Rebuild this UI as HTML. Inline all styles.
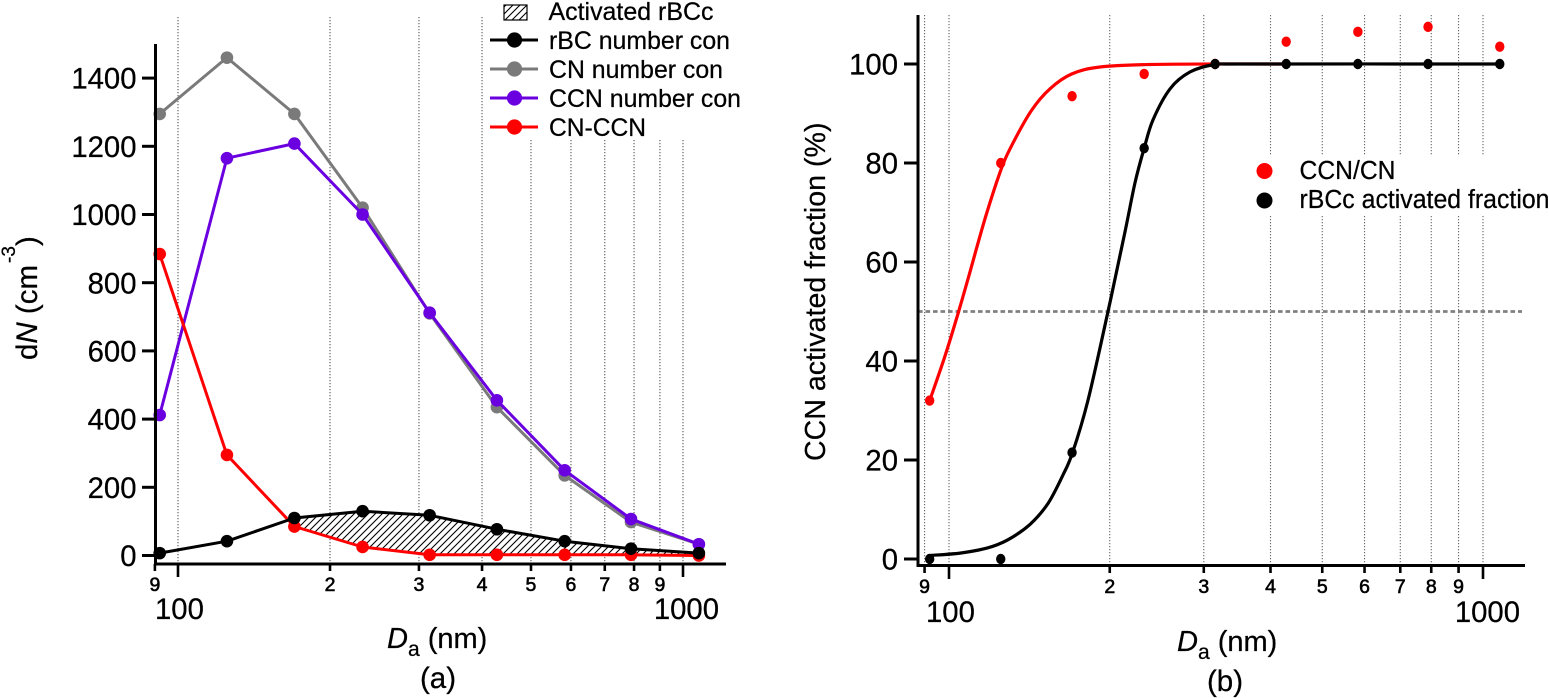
<!DOCTYPE html>
<html lang="en">
<head>
<meta charset="utf-8">
<title>dN and CCN activated fraction vs. Da</title>
<style>
html,body{margin:0;padding:0;background:#fff;}
svg{display:block;}
text{font-family:"Liberation Sans",Arial,sans-serif;fill:#000;stroke:#000;stroke-width:.25px;}
</style>
</head>
<body>
<svg id="figure" xmlns="http://www.w3.org/2000/svg" width="1549" height="698" viewBox="0 0 1549 698">
  <defs>
    <pattern id="hatch" patternUnits="userSpaceOnUse" width="7" height="7">
      <rect width="7" height="7" fill="#fff"/>
      <path d="M-1 8 L8 -1 M-1 1 L1 -1 M6 8 L8 6" stroke="#000" stroke-width="1.1"/>
    </pattern>
  </defs>
  <g id="panel-a"></g>
  <g id="panel-b"></g>
</svg>
<script>
const diameters = [92, 125, 170, 232, 315, 428, 583, 789, 1075];
const rbcNumber = [7, 42, 110, 130, 118, 77, 42, 20, 7];
const cnNumber = [1295, 1460, 1295, 1020, 710, 435, 235, 98, 33];
const ccnNumber = [412, 1165, 1208, 1000, 712, 455, 250, 107, 33];
const cnMinusCcn = [884, 295, 85, 25, 2, 2, 2, 2, 0];
const ccnCnFraction = [32, 80, 93.5, 98, 100, 104.5, 106.5, 107.5, 103.5];
const rbcFraction = [0, 0, 21.5, 83, 100, 100, 100, 100, 100];
const redFitD = [92, 98.3, 103.9, 108.5, 117, 125, 131, 142.5, 154.6, 169.9, 191.8, 238, 315, 420];
const redFitV = [32, 41, 49.5, 56.5, 69, 78.5, 83.5, 90.5, 95, 98, 99.4, 99.9, 100, 100];
const blackFitD = [92, 104.9, 117.8, 129, 141.8, 153.2, 163.5, 170.5, 182, 198.5, 213.5, 223, 232, 241, 259.4, 282.8, 315, 351, 1075];
const blackFitV = [0.7, 1.2, 2.2, 3.9, 7, 11.2, 17, 21.6, 32, 50, 66, 76, 83, 88.7, 95, 98.4, 99.9, 100, 100];
const yTicksA = [0, 200, 400, 600, 800, 1000, 1200, 1400];
const yTicksB = [0, 20, 40, 60, 80, 100];
const xTicks = [90, 100, 200, 300, 400, 500, 600, 700, 800, 900, 1000];
const xMinorLabels = ["9", "", "2", "3", "4", "5", "6", "7", "8", "9", ""];
const xMajorLabels = [100, 1000];
const halfActivation = 50;

const NS = 'http://www.w3.org/2000/svg';
const xA = d => 178 + 505 * Math.log10(d / 100);
const yA = v => 555.5 - 0.341 * v;
const xB = d => 949 + 534 * Math.log10(d / 100);
const yB = v => 559 - 4.95 * v;

function make(parent, tag, attrs, txt) {
  const el = document.createElementNS(NS, tag);
  for (const k in attrs) el.setAttribute(k, attrs[k]);
  if (txt !== undefined) el.textContent = txt;
  parent.appendChild(el);
  return el;
}
function pts(xs, ys, fx, fy) {
  return xs.map((x, i) => fx(x).toFixed(1) + ',' + fy(ys[i]).toFixed(1)).join(' ');
}
function smoothPath(xs, ys, fx, fy) {
  const p = xs.map((x, i) => [fx(x), fy(ys[i])]);
  let d = 'M' + p[0][0].toFixed(1) + ' ' + p[0][1].toFixed(1);
  for (let i = 0; i < p.length - 1; i++) {
    const a = p[Math.max(i - 1, 0)], b = p[i], c = p[i + 1], e = p[Math.min(i + 2, p.length - 1)];
    d += ' C' + (b[0] + (c[0] - a[0]) / 6).toFixed(1) + ' ' + (b[1] + (c[1] - a[1]) / 6).toFixed(1) +
         ' ' + (c[0] - (e[0] - b[0]) / 6).toFixed(1) + ' ' + (c[1] - (e[1] - b[1]) / 6).toFixed(1) +
         ' ' + c[0].toFixed(1) + ' ' + c[1].toFixed(1);
  }
  return d;
}

const A = document.getElementById('panel-a');
const B = document.getElementById('panel-b');

/* ---------- Panel A ---------- */
xTicks.forEach((d, i) => {
  if (d === 90) return;
  const top = d >= 500 ? 140 : 17;
  const g = make(A, 'line', {x1: xA(d), x2: xA(d), y1: top, y2: 563, stroke: '#666', 'stroke-width': 1.2, 'stroke-dasharray': '1.3 1.7'});
  
  
});

const hatchUpper = diameters.slice(2).map((d, i) => xA(d).toFixed(1) + ',' + yA(rbcNumber[i + 2]).toFixed(1));
const hatchLower = diameters.slice(2).map((d, i) => xA(d).toFixed(1) + ',' + yA(cnMinusCcn[i + 2]).toFixed(1)).reverse();
const area = make(A, 'polygon', {points: hatchUpper.concat(hatchLower).join(' '), fill: 'url(#hatch)'});



function series(values, color, name) {
  const g = make(A, 'g', {});
  
  
  make(g, 'polyline', {points: pts(diameters, values, xA, yA), fill: 'none', stroke: color, 'stroke-width': 3, 'stroke-linejoin': 'round'});
  diameters.forEach((d, i) => {
    make(g, 'circle', {cx: xA(d), cy: yA(values[i]), r: 6.3, fill: color});
  });
}
series(cnNumber, '#7a7a7a', 'series-cn-number');
series(ccnNumber, '#6a00e0', 'series-ccn-number');
series(cnMinusCcn, '#ff0000', 'series-cn-minus-ccn');
series(rbcNumber, '#000000', 'series-rbc-number');

const axisYA = make(A, 'line', {x1: 155.5, x2: 155.5, y1: 44, y2: 565, stroke: '#000', 'stroke-width': 3});


const axisXA = make(A, 'line', {x1: 154, x2: 726, y1: 564, y2: 564, stroke: '#000', 'stroke-width': 3});



yTicksA.forEach(v => {
  make(A, 'line', {x1: 142, x2: 155, y1: yA(v), y2: yA(v), stroke: '#000', 'stroke-width': 3});
  const t = make(A, 'text', {x: 136.5, y: yA(v) + 10.6, 'text-anchor': 'end', 'font-size': 29.3}, v);
  
  
});
xTicks.forEach((d, i) => {
  const major = d === 100 || d === 1000;
  make(A, 'line', {x1: xA(d), x2: xA(d), y1: 564, y2: major ? 577 : 571, stroke: '#000', 'stroke-width': 2.6});
  if (xMinorLabels[i]) {
    const t = make(A, 'text', {x: xA(d), y: 591, 'text-anchor': 'middle', 'font-size': 19.5, style: 'stroke-width:.6px'}, xMinorLabels[i]);
    
    
  }
});
const m100a = make(A, 'text', {x: 155, y: 619, 'font-size': 29.3}, xMajorLabels[0]);


const m1000a = make(A, 'text', {x: 719, y: 619, 'text-anchor': 'end', 'font-size': 29.3}, xMajorLabels[1]);



function xTitle(parent, x, y, name) {
  const t = make(parent, 'text', {x: x, y: y, 'font-size': 29});
  
  
  make(t, 'tspan', {'font-style': 'italic'}, 'D');
  make(t, 'tspan', {dy: 8, 'font-size': 21}, 'a');
  make(t, 'tspan', {dy: -8}, ' (nm)');
}
xTitle(A, 387, 648, 'x-axis-title-a');
const capA = make(A, 'text', {x: 438, y: 688, 'text-anchor': 'middle', 'font-size': 29.5}, '(a)');



const yTitleA = make(A, 'text', {transform: 'translate(37,360) rotate(-90)', 'font-size': 29.5});


make(yTitleA, 'tspan', {}, 'd');
make(yTitleA, 'tspan', {'font-style': 'italic'}, 'N');
make(yTitleA, 'tspan', {}, ' (cm');
const expA = make(A, 'text', {transform: 'translate(15,263) rotate(-90)', 'font-size': 19}, '-3');


const closeA = make(A, 'text', {transform: 'translate(37,246) rotate(-90)', 'font-size': 29.5}, ')');



const legendA = make(A, 'g', {});


const hatchSw = make(legendA, 'rect', {x: 504, y: 5, width: 23, height: 15, fill: 'url(#hatch)', stroke: '#000', 'stroke-width': 1.2});


const hatchLabel = make(legendA, 'text', {x: 548.5, y: 20, 'font-size': 25, textLength: 165, lengthAdjust: 'spacingAndGlyphs'}, 'Activated rBCc');


[['rBC number con', '#000000', 40, 181], ['CN number con', '#7a7a7a', 69, 174], ['CCN number con', '#6a00e0', 98, 192], ['CN-CCN', '#ff0000', 127, 97]].forEach(row => {
  const g = make(legendA, 'g', {});
  
  
  make(g, 'line', {x1: 490, x2: 538, y1: row[2], y2: row[2], stroke: row[1], 'stroke-width': 3});
  make(g, 'circle', {cx: 514.5, cy: row[2], r: 7.6, fill: row[1]});
  make(g, 'text', {x: 549, y: row[2] + 9, 'font-size': 25, textLength: row[3], lengthAdjust: 'spacingAndGlyphs'}, row[0]);
});

/* ---------- Panel B ---------- */
xTicks.forEach(d => {
  const g = make(B, 'line', {x1: xB(d), x2: xB(d), y1: 15, y2: 565, stroke: '#666', 'stroke-width': 1.1, 'stroke-dasharray': '1.3 1.7'});
  
  
});
const legendMask = make(B, 'rect', {x: 1240, y: 156, width: 309, height: 59, fill: '#fff'});



const halfLine = make(B, 'line', {x1: 918, x2: 1522, y1: yB(halfActivation), y2: yB(halfActivation), stroke: '#808080', 'stroke-width': 2.7, 'stroke-dasharray': '4.6 2.9'});



const fitRed = make(B, 'path', {d: smoothPath(redFitD, redFitV, xB, yB), fill: 'none', stroke: '#ff0000', 'stroke-width': 3.2, 'stroke-linejoin': 'round'});


const fitBlack = make(B, 'path', {d: smoothPath(blackFitD, blackFitV, xB, yB), fill: 'none', stroke: '#000', 'stroke-width': 3.2, 'stroke-linejoin': 'round'});



diameters.forEach((d, i) => {
  const p = make(B, 'ellipse', {cx: xB(d), cy: yB(ccnCnFraction[i]), rx: 4.7, ry: 5.2, fill: '#ff0000'});
  
  
});
diameters.forEach((d, i) => {
  const p = make(B, 'ellipse', {cx: xB(d), cy: yB(rbcFraction[i]), rx: 4.7, ry: 5.2, fill: '#000'});
  
  
});

const axisYB = make(B, 'line', {x1: 918, x2: 918, y1: 15, y2: 567, stroke: '#000', 'stroke-width': 3});


const axisXB = make(B, 'line', {x1: 917, x2: 1525, y1: 565.5, y2: 565.5, stroke: '#000', 'stroke-width': 3});



yTicksB.forEach(v => {
  make(B, 'line', {x1: 904, x2: 917, y1: yB(v), y2: yB(v), stroke: '#000', 'stroke-width': 3});
  const t = make(B, 'text', {x: 898, y: yB(v) + 10.6, 'text-anchor': 'end', 'font-size': 29.3}, v);
  
  
});
xTicks.forEach((d, i) => {
  const major = d === 100 || d === 1000;
  make(B, 'line', {x1: xB(d), x2: xB(d), y1: 565, y2: major ? 579 : 573, stroke: '#000', 'stroke-width': 2.6});
  if (xMinorLabels[i]) {
    const t = make(B, 'text', {x: xB(d), y: 593, 'text-anchor': 'middle', 'font-size': 19.5, style: 'stroke-width:.6px'}, xMinorLabels[i]);
    
    
  }
});
const m100b = make(B, 'text', {x: 926, y: 622, 'font-size': 29.3}, xMajorLabels[0]);


const m1000b = make(B, 'text', {x: 1520, y: 622, 'text-anchor': 'end', 'font-size': 29.3}, xMajorLabels[1]);



xTitle(B, 1177, 651, 'x-axis-title-b');
const capB = make(B, 'text', {x: 1225, y: 691, 'text-anchor': 'middle', 'font-size': 29.5}, '(b)');



const yTitleB = make(B, 'text', {transform: 'translate(825,461) rotate(-90)', 'font-size': 28.6}, 'CCN activated fraction (%)');



const legendB = make(B, 'g', {});


[['CCN/CN', '#ff0000', 171, 179, 96], ['rBCc activated fraction', '#000', 200.5, 208, 250]].forEach(row => {
  const g = make(legendB, 'g', {});
  
  
  make(g, 'circle', {cx: 1264.5, cy: row[2], r: 8, fill: row[1]});
  make(g, 'text', {x: 1299.5, y: row[3], 'font-size': 25.5, textLength: row[4], lengthAdjust: 'spacingAndGlyphs'}, row[0]);
});
</script>
</body>
</html>
